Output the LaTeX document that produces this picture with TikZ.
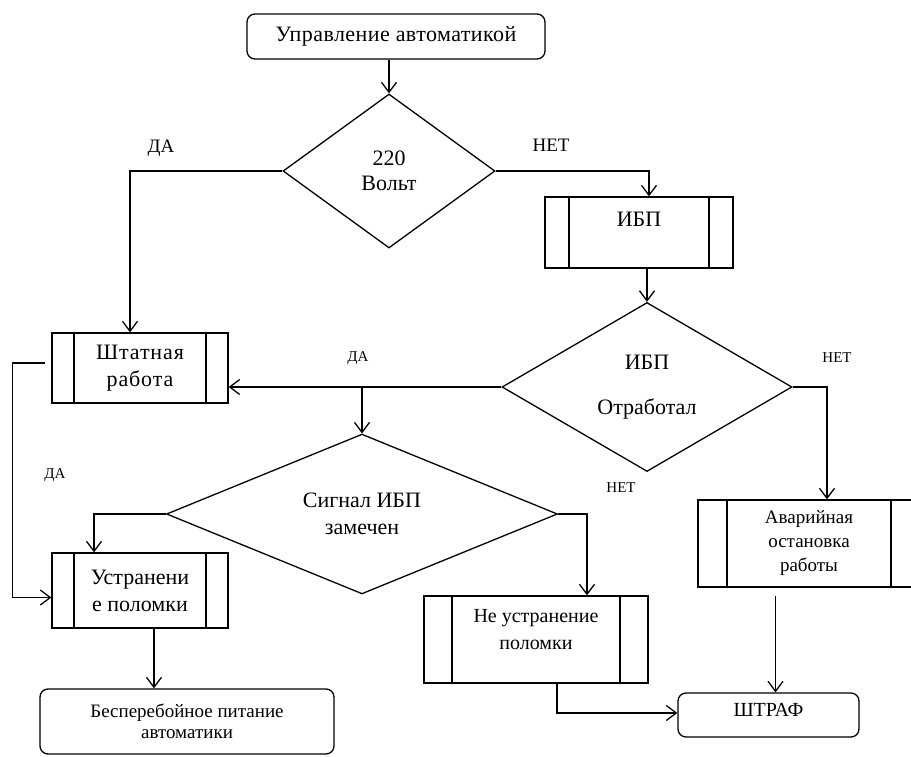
\documentclass[tikz,border=0pt]{standalone}
\usepackage{fontspec}
\setmainfont{Liberation Serif}
\usetikzlibrary{shapes.geometric,arrows.meta}

\begin{document}
\begin{tikzpicture}[x=1pt,y=-1pt,line width=1.3pt,
  arr/.style={-{Straight Barb[length=10pt,width=15pt]}},
  term/.style={draw,rounded corners=8pt,align=center,inner sep=0pt},
  cond/.style={draw,diamond,align=center,inner sep=0pt},
  subproc/.style={draw,rectangle,align=center,inner sep=0pt,
    path picture={
      \draw ([xshift=#1]path picture bounding box.north west) -- ([xshift=#1]path picture bounding box.south west);
      \draw ([xshift=-#1]path picture bounding box.north east) -- ([xshift=-#1]path picture bounding box.south east);}},
  big/.style={font=\fontsize{22}{27}\selectfont},
  mid/.style={font=\fontsize{19}{24}\selectfont},
  tag/.style={font=\fontsize{15}{18}\selectfont}]

\useasboundingbox (0,0) rectangle (911,756);
\clip (0,0) rectangle (911,756);

% Start
\node[term,big,minimum width=298pt,minimum height=45pt] (start) at (396,36.5) {\addfontfeature{LetterSpace=2}Управление автоматикой};

% Decision 1
\node[cond,big,minimum width=212pt,minimum height=154pt] (volt) at (389,171) {220\\[-2pt]Вольт};
\node[mid] (yes1) at (161,148) {ДА};
\node[mid] (no1) at (551,145) {НЕТ};

% UPS
\node[subproc=24pt,big,minimum width=188pt,minimum height=71pt] (ups) at (639,232.5) {ИБП\\ \mbox{}};

% Decision 2
\node[cond,big,minimum width=290pt,minimum height=169pt] (upsok) at (647,387) {ИБП\\[18pt]Отработал};
\node[tag] (yes2) at (358,358) {ДА};
\node[tag] (no2) at (837,358) {НЕТ};

% Normal work
\node[subproc=22pt,big,minimum width=176pt,minimum height=70pt] (normal) at (140,368) {\addfontfeature{LetterSpace=4}Штатная\\\addfontfeature{LetterSpace=4}работа};

% Emergency stop
\node[subproc=29pt,mid,minimum width=222pt,minimum height=87pt] (emerg) at (809,543.5) {Аварийная\\остановка\\работы};

% Decision 3
\node[cond,big,minimum width=391pt,minimum height=137pt] (signal) at (362,514) {Сигнал ИБП\\замечен};
\node[tag] (yes3) at (55,475) {ДА};
\node[tag] (no3) at (621,488) {НЕТ};

% Repair
\node[subproc=22pt,big,minimum width=176pt,minimum height=75pt] (fixed) at (140,590.5) {Устранени\\е поломки};
\node[subproc=28pt,font=\fontsize{20}{27}\selectfont,minimum width=224pt,minimum height=87pt] (notfixed) at (536,639.5) {Не устранение\\поломки\\[-6pt] \mbox{}};

% Ends
\node[term,mid,minimum width=294pt,minimum height=65pt] (power) at (187,721.5) {Бесперебойное питание\\[-3pt]автоматики};
\node[term,font=\fontsize{20}{24}\selectfont,minimum width=181pt,minimum height=44pt] (fine) at (768.5,715) {ШТРАФ\\[-14pt] \mbox{}};

% Connectors
\draw[arr] (volt.north |- start.south) -- (volt.north);
\draw[arr] (volt.west) -| ([xshift=-10pt]normal.north);
\draw[arr] (volt.east) -| ([xshift=10pt]ups.north);
\draw[arr] (upsok.north |- ups.south) -- (upsok.north);
\draw[arr] (upsok.west) -- (upsok.west -| normal.east);
\draw[arr] (signal.north |- upsok.west) -- (signal.north);
\draw[arr] (upsok.east) -| ([xshift=18pt]emerg.north);
\draw[arr] ([xshift=7pt,yshift=-8pt]fine.north |- emerg.south) -- ([xshift=7pt]fine.north);
\draw[arr] ([xshift=-6pt,yshift=5pt]normal.west) -- ++(-33,0) |- ([yshift=-7pt]fixed.west);
\draw[arr] (signal.west) -| ([xshift=-46pt]fixed.north);
\draw[arr] (signal.east) -| ([xshift=51pt]notfixed.north);
\draw[arr] ([xshift=14pt]fixed.south) -- ([xshift=14pt]fixed.south |- power.north);
\draw[arr] ([xshift=21pt]notfixed.south) |- ([yshift=2pt]fine.west);

\end{tikzpicture}
\end{document}
